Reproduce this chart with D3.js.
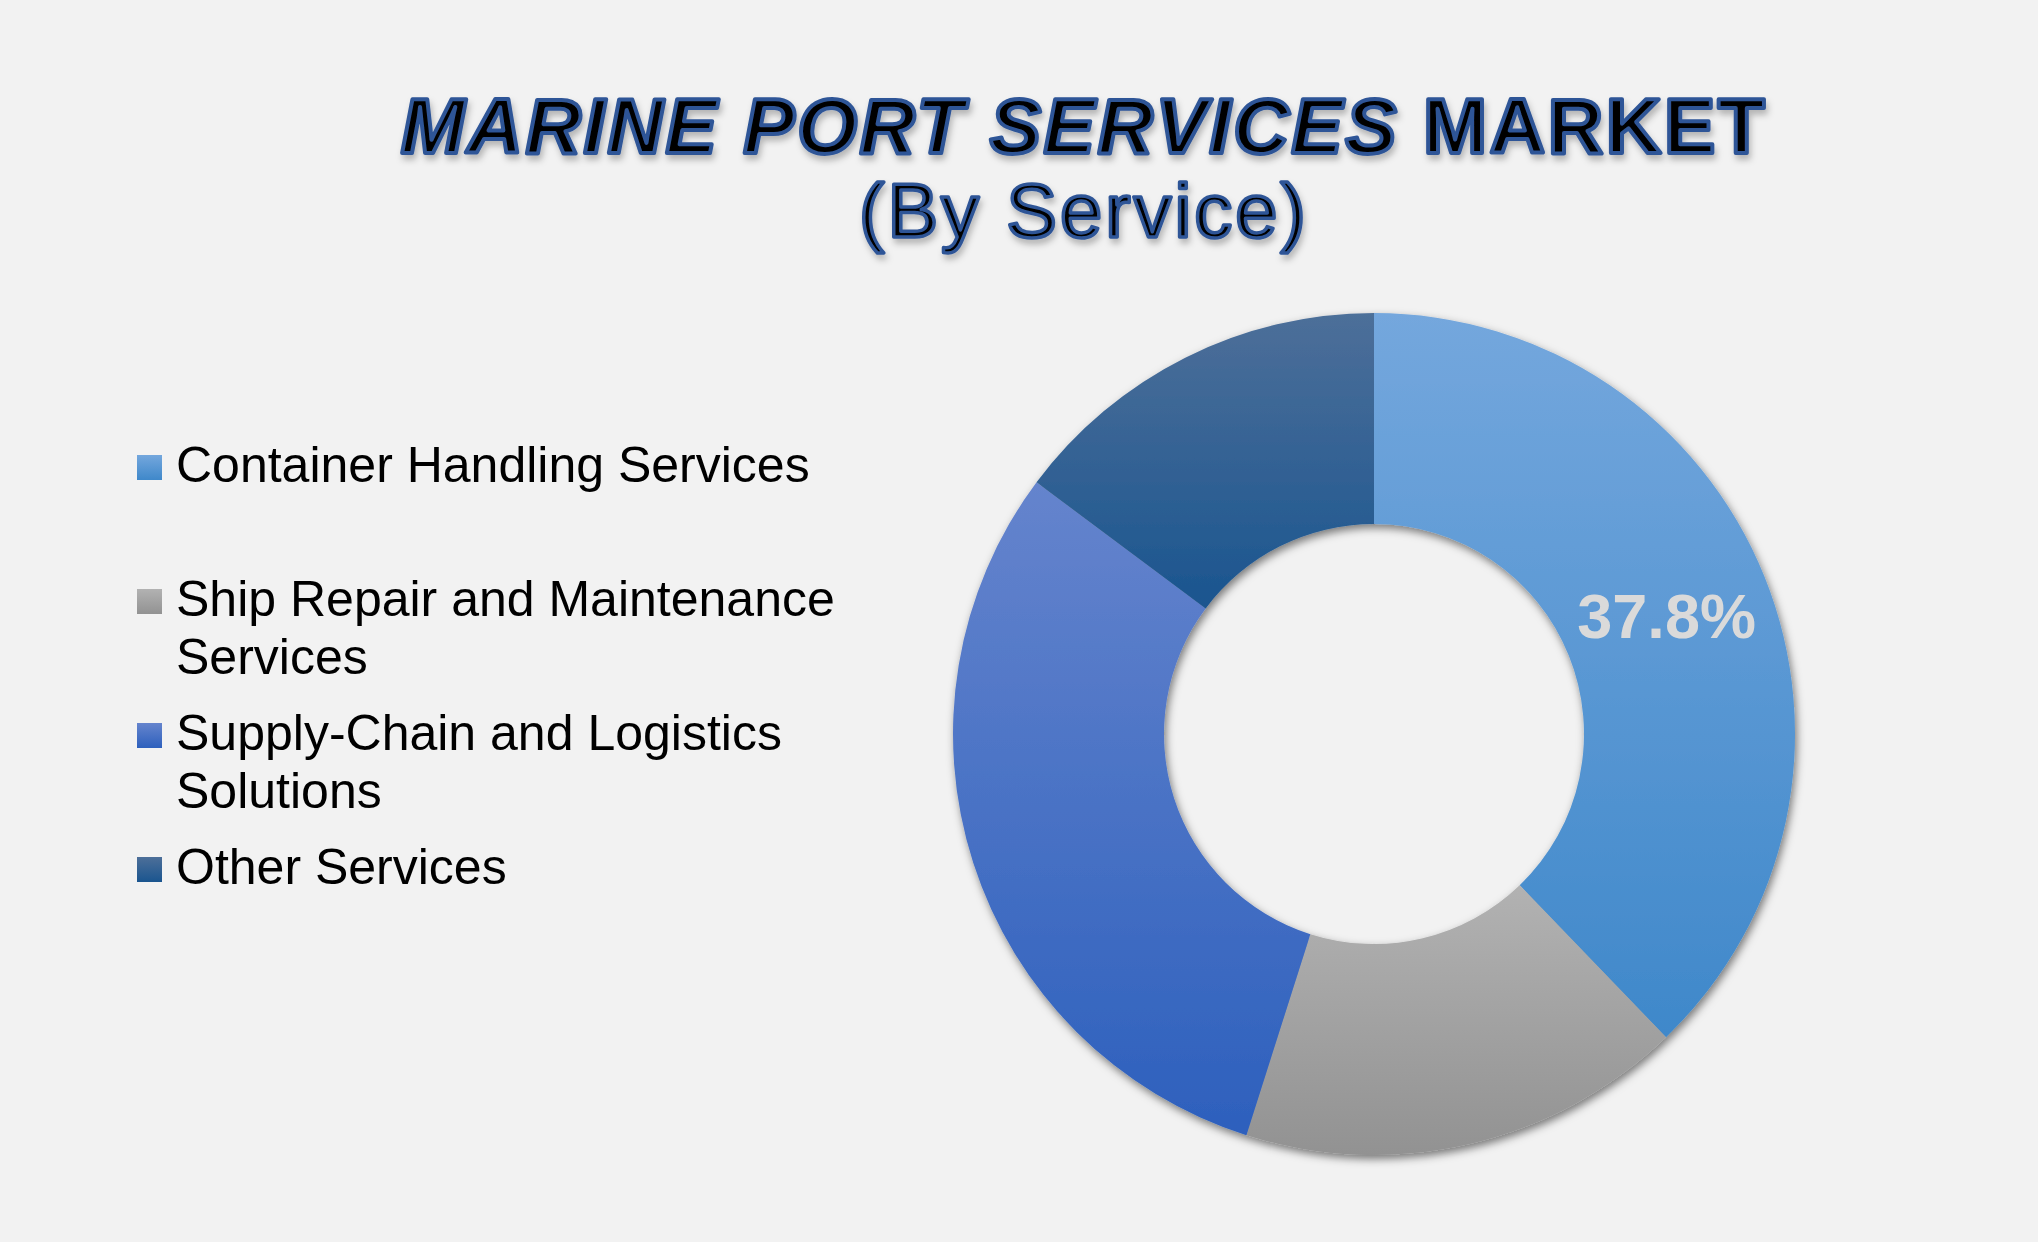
<!DOCTYPE html>
<html>
<head>
<meta charset="utf-8">
<script src="https://cdn.jsdelivr.net/npm/d3@7"></script>
<style>
  html, body { margin: 0; padding: 0; background: #f2f2f2; }
  svg { display: block; }
</style>
</head>
<body>
<script>
// ---- data ----
const categories = [
  "Container Handling Services",
  "Ship Repair and Maintenance Services",
  "Supply-Chain and Logistics Solutions",
  "Other Services"
];
const shares = [37.8, 17.1, 30.3, 14.8];
const shownLabels = ["37.8%", "", "", ""];
const colorTop = ["#74a7dd", "#b2b2b2", "#6584cd", "#4d6f99"];
const colorBottom = ["#3f88ca", "#929292", "#2d60bd", "#1a558f"];
const titleItalic = "MARINE PORT SERVICES";
const titleRegular = " MARKET";
const subtitle = "(By Service)";

// ---- layout ----
const W = 2038, H = 1242;
const cx = 1374, cy = 734, R = 421, r = 210;

const svg = d3.select("body").append("svg").attr("width", W).attr("height", H);
svg.append("rect").attr("width", W).attr("height", H).attr("fill", "#f2f2f2");

const defs = svg.append("defs");
categories.forEach((c, i) => {
  const g = defs.append("linearGradient").attr("id", "grad" + i)
    .attr("x1", 0).attr("y1", 0).attr("x2", 0).attr("y2", 1);
  g.append("stop").attr("offset", "0%").attr("stop-color", colorTop[i]);
  g.append("stop").attr("offset", "100%").attr("stop-color", colorBottom[i]);
});
const sh = defs.append("filter").attr("id", "shadow")
  .attr("x", "-10%").attr("y", "-10%").attr("width", "120%").attr("height", "120%");
sh.append("feDropShadow").attr("dx", 2).attr("dy", 4).attr("stdDeviation", 4)
  .attr("flood-color", "#000").attr("flood-opacity", 0.5);
const tsh = defs.append("filter").attr("id", "tshadow")
  .attr("x", "-10%").attr("y", "-30%").attr("width", "120%").attr("height", "160%");
tsh.append("feDropShadow").attr("dx", 2).attr("dy", 5).attr("stdDeviation", 3)
  .attr("flood-color", "#000").attr("flood-opacity", 0.25);

// ---- title ----
const titleG = svg.append("g").attr("filter", "url(#tshadow)");
const t1 = titleG.append("text")
  .attr("x", 1084).attr("y", 153)
  .attr("text-anchor", "middle")
  .attr("font-family", "'Liberation Sans', Arial, sans-serif")
  .attr("font-size", 77).attr("font-weight", "bold")
  .attr("letter-spacing", 2.5)
  .attr("fill", "#000").attr("stroke", "#2f5597").attr("stroke-width", 4)
  .attr("stroke-linejoin", "round");
t1.append("tspan").attr("font-style", "italic").text(titleItalic);
t1.append("tspan").text(titleRegular);

titleG.append("text")
  .attr("x", 1084).attr("y", 237)
  .attr("text-anchor", "middle")
  .attr("font-family", "'Liberation Sans', Arial, sans-serif")
  .attr("font-size", 76)
  .attr("letter-spacing", 3)
  .attr("fill", "#000").attr("stroke", "#2f5597").attr("stroke-width", 3.5)
  .attr("stroke-linejoin", "round")
  .text(subtitle);

// ---- donut ----
const pie = d3.pie().sort(null).value(d => d)(shares);
const arc = d3.arc().innerRadius(r).outerRadius(R);
const donut = svg.append("g").attr("transform", `translate(${cx},${cy})`);
const ringG = donut.append("g").attr("filter", "url(#shadow)");
ringG.selectAll("path").data(pie).join("path")
  .attr("d", arc)
  .attr("fill", (d, i) => `url(#grad${i})`);

donut.selectAll("text.lbl").data(pie).join("text")
  .attr("class", "lbl")
  .attr("transform", d => `translate(${arc.centroid(d)})`)
  .attr("text-anchor", "middle")
  .attr("dominant-baseline", "central")
  .attr("font-family", "'Liberation Sans', Arial, sans-serif")
  .attr("font-weight", "bold")
  .attr("font-size", 63)
  .attr("fill", "#dadada")
  .text((d, i) => shownLabels[i]);

// ---- legend ----
const legX = 137, legTextX = 176, legY0 = 482, slot = 134, lineH = 58, maxW = 690;
const leg = svg.append("g");
categories.forEach((c, i) => {
  const y = legY0 + i * slot;
  leg.append("rect").attr("x", legX).attr("y", y - 27).attr("width", 25).attr("height", 25)
    .attr("fill", `url(#grad${i})`);
  const txt = leg.append("text")
    .attr("font-family", "'Liberation Sans', Arial, sans-serif")
    .attr("font-size", 50).attr("fill", "#000");
  const words = c.split(" ");
  let line = [], lineNo = 0;
  let tsp = txt.append("tspan").attr("x", legTextX).attr("y", y);
  words.forEach(w => {
    line.push(w);
    tsp.text(line.join(" "));
    if (tsp.node().getComputedTextLength() > maxW && line.length > 1) {
      line.pop();
      tsp.text(line.join(" "));
      line = [w];
      lineNo++;
      tsp = txt.append("tspan").attr("x", legTextX).attr("y", y + lineNo * lineH).text(w);
    }
  });
});
</script>
</body>
</html>
